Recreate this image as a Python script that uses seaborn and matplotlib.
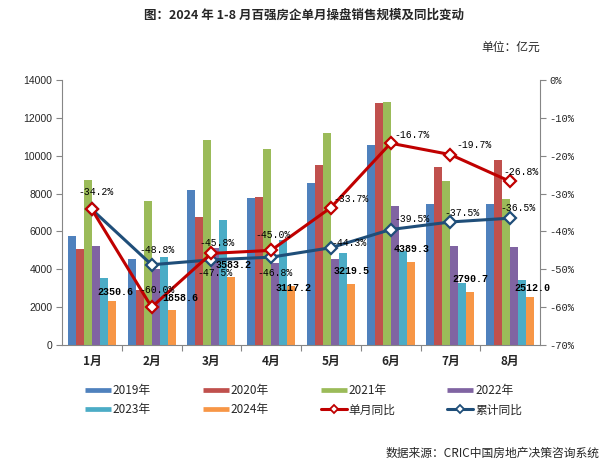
import numpy as np
import pandas as pd
import matplotlib
matplotlib.use("Agg")
import matplotlib.pyplot as plt
from matplotlib.lines import Line2D
from matplotlib.ticker import FixedLocator
import seaborn as sns

# ---- data ----
months = ["1月", "2月", "3月", "4月", "5月", "6月", "7月", "8月"]
years = ["2019年", "2020年", "2021年", "2022年", "2023年", "2024年"]
sales_2019 = [5780, 4540, 8190, 7780, 8570, 10560, 7450, 7450]
sales_2020 = [5070, 2900, 6760, 7830, 9510, 12800, 9420, 9800]
sales_2021 = [8720, 7610, 10830, 10350, 11210, 12850, 8680, 7730]
sales_2022 = [5250, 4010, 5120, 4320, 4540, 7360, 5250, 5180]
sales_2023 = [3540, 4650, 6600, 5550, 4860, 4950, 3300, 3450]
sales_2024 = [2350.6, 1858.6, 3583.2, 3117.2, 3219.5, 4389.3, 2790.7, 2512.0]
single_yoy = [-34.2, -60.0, -45.8, -45.0, -33.7, -16.7, -19.7, -26.8]
cum_yoy = [-34.2, -48.8, -47.5, -46.8, -44.3, -39.5, -37.5, -36.5]

bar_colors = ["#4F81BD", "#C0504D", "#9BBB59", "#8064A2", "#4BACC6", "#F79646"]
red = "#C00000"
navy = "#1F4E79"
axis_grey = "#868686"

sns.set_theme(style="white")
plt.rcParams["font.family"] = ["Noto Sans CJK SC", "DejaVu Sans"]
plt.rcParams["axes.unicode_minus"] = False

df = pd.DataFrame({
    "month": np.repeat(months, len(years)),
    "year": years * len(months),
    "value": np.column_stack([sales_2019, sales_2020, sales_2021,
                              sales_2022, sales_2023, sales_2024]).ravel(),
})

fig = plt.figure(figsize=(6.08, 4.68), dpi=100)
ax = fig.add_axes([62 / 608, 1 - 345 / 468, 478 / 608, 265 / 468])

sns.barplot(data=df, x="month", y="value", hue="year", order=months,
            hue_order=years, palette=bar_colors, saturation=1, width=0.8,
            gap=0, linewidth=0, ax=ax, legend=False)
ax.set_xlabel("")
ax.set_ylabel("")
ax.set_xlim(-0.5, len(months) - 0.5)
ax.set_ylim(0, 14000)
ax.set_yticks(np.arange(0, 14001, 2000))
ax.tick_params(axis="y", direction="out", length=4, width=0.8, color=axis_grey,
               labelsize=7.5, pad=3, left=True)
ax.tick_params(axis="x", which="major", length=0, pad=7)
ax.xaxis.set_minor_locator(FixedLocator(np.arange(0.5, len(months) - 1, 1)))
ax.tick_params(axis="x", which="minor", direction="out", length=4, width=0.8,
               color=axis_grey, bottom=True)
for lab in ax.get_xticklabels():
    lab.set_fontweight("bold")
    lab.set_fontsize(8.5)
for lab in ax.get_yticklabels():
    lab.set_family(["Liberation Sans"])
for s in ["left", "bottom"]:
    ax.spines[s].set_color(axis_grey)
    ax.spines[s].set_linewidth(0.8)
ax.spines["top"].set_visible(False)
ax.spines["right"].set_visible(False)

# ---- year-on-year lines on the right axis ----
ax2 = ax.twinx()
xpos = np.arange(len(months))
sns.lineplot(x=xpos, y=cum_yoy, ax=ax2, color=navy, linewidth=2.2,
             marker="D", markersize=6, markerfacecolor="white",
             markeredgecolor=navy, markeredgewidth=1.6, label="累计同比",
             legend=False)
sns.lineplot(x=xpos, y=single_yoy, ax=ax2, color=red, linewidth=2.2,
             marker="D", markersize=6, markerfacecolor="white",
             markeredgecolor=red, markeredgewidth=1.6, label="单月同比",
             legend=False)
ax2.set_ylim(-70, 0)
ax2.set_yticks(np.arange(-70, 1, 10))
ax2.set_yticklabels([f"{v}%" for v in range(-70, 1, 10)],
                    family=["Liberation Mono"], fontsize=7.5)
ax2.set_ylabel("")
ax2.tick_params(axis="y", direction="out", length=4, width=0.8,
                color=axis_grey, pad=3, right=True)
for s in ["left", "top", "bottom"]:
    ax2.spines[s].set_visible(False)
ax2.spines["right"].set_color(axis_grey)
ax2.spines["right"].set_linewidth(0.8)

# ---- data labels (offsets in pixels) ----
single_off = [(4, 17), (5, 17), (6, 10), (2, 15), (20, 9), (21, 8), (24, 10), (11, 9)]
cum_off = [(4, 17), (5, 15), (4, -13), (4, -16), (18, 5), (21, 11), (12, 9), (8, 10)]
bar_off = [(4, 9), (9, 12), (2, 12), (3, -2), (1, 13), (1, 13), (0, 13), (2, 9)]

for i, v in enumerate(cum_yoy):
    if i == 0:
        continue  # same spot and text as the single-month label
    ax2.annotate(f"{v:.1f}%", (xpos[i], v), xytext=cum_off[i],
                 textcoords="offset pixels", ha="center", va="center",
                 fontsize=7, family=["Liberation Mono"], color="black",
                 zorder=6)
for i, v in enumerate(single_yoy):
    ax2.annotate(f"{v:.1f}%", (xpos[i], v), xytext=single_off[i],
                 textcoords="offset pixels", ha="center", va="center",
                 fontsize=7, family=["Liberation Mono"], color="black",
                 zorder=6)

bar_shift = -0.4 + 0.8 / len(years) * (len(years) - 0.5)
for i, v in enumerate(sales_2024):
    ax2.annotate(f"{v:.1f}", (xpos[i] + bar_shift, v), xycoords=ax.transData,
                 xytext=bar_off[i], textcoords="offset pixels", ha="center",
                 va="center", fontsize=7.2, fontweight="bold",
                 family=["Liberation Mono"], color="black", zorder=6)

# ---- legend ----
bar_handles = [Line2D([], [], color=c, linewidth=3.4, solid_capstyle="butt")
               for c in bar_colors]
line_handles = [
    Line2D([], [], color=red, linewidth=2.2, marker="D", markersize=4,
           markerfacecolor="white", markeredgecolor=red, markeredgewidth=1.3),
    Line2D([], [], color=navy, linewidth=2.2, marker="D", markersize=4,
           markerfacecolor="white", markeredgecolor=navy, markeredgewidth=1.3),
]
handles = bar_handles + line_handles
labels = years + ["单月同比", "累计同比"]
order = [0, 4, 1, 5, 2, 6, 3, 7]
fig.legend([handles[k] for k in order], [labels[k] for k in order],
           loc="upper left", bbox_to_anchor=(85 / 608, 1 - 384 / 468),
           ncol=4, frameon=False, fontsize=8.5, handlelength=2.2,
           handletextpad=0.15, columnspacing=4.4, labelspacing=0.55,
           borderpad=0, borderaxespad=0)

# ---- titles ----
fig.text(0.5, 1 - 15 / 468, "图：2024 年 1-8 月百强房企单月操盘销售规模及同比变动",
         ha="center", va="center", fontsize=9, fontweight="bold")
fig.text(540 / 608, 1 - 47 / 468, "单位：亿元", ha="right", va="center",
         fontsize=8.5)
fig.text(600 / 608, 1 - 453 / 468, "数据来源：CRIC中国房地产决策咨询系统",
         ha="right", va="center", fontsize=8.5)

fig.savefig("out.png", dpi=100)
